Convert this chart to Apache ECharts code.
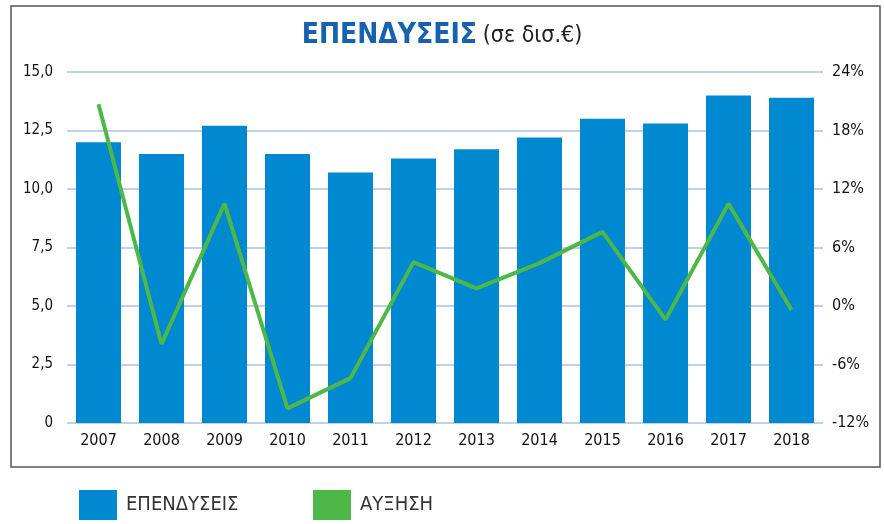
<!DOCTYPE html>
<html>
<head>
<meta charset="utf-8">
<script src="https://cdn.jsdelivr.net/npm/echarts@6/dist/echarts.min.js"></script>
<style>
  html, body { margin: 0; padding: 0; background: #fff; }
  #main { width: 884px; height: 524px; }
</style>
</head>
<body>
<div id="main"></div>
<script>
// δεδομένα
const years = ['2007', '2008', '2009', '2010', '2011', '2012', '2013', '2014', '2015', '2016', '2017', '2018']
const investments = [12.0, 11.5, 12.7, 11.5, 10.7, 11.3, 11.7, 12.2, 13.0, 12.8, 14.0, 13.9]
const growth = [20.7, -3.9, 10.5, -10.5, -7.4, 4.5, 1.8, 4.4, 7.6, -1.4, 10.5, -0.4]

const font = '"Liberation Sans Narrow", "DejaVu Sans Condensed", sans-serif'
const blue = '#0088d1'
const green = '#4db848'
const gridColor = '#a9c1e6'

const myChart = echarts.init(document.getElementById('main'))

const legendText = { fontSize: 20, color: '#333', padding: [0, 0, 0, 4], fontFamily: font }

const option = {
  animation: false,
  textStyle: { fontFamily: font },
  title: {
    text: '{a|ΕΠΕΝΔΥΣΕΙΣ} {b|(σε δισ.€)}',
    left: 'center',
    top: 17,
    textStyle: {
      rich: {
        a: { fontSize: 28, fontWeight: 'bold', color: '#1762ae', fontFamily: font },
        b: { fontSize: 23, fontWeight: 'normal', color: '#222', fontFamily: font }
      }
    }
  },
  legend: [
    {
      data: ['ΕΠΕΝΔΥΣΕΙΣ'],
      left: 79,
      top: 490,
      padding: 0,
      itemWidth: 38,
      itemHeight: 30,
      icon: 'rect',
      textStyle: legendText
    },
    {
      data: ['ΑΥΞΗΣΗ'],
      left: 313,
      top: 490,
      padding: 0,
      itemWidth: 38,
      itemHeight: 30,
      icon: 'rect',
      itemStyle: { color: green },
      textStyle: legendText
    }
  ],
  grid: {
    left: 67,
    right: 61,
    top: 72,
    bottom: 101
  },
  xAxis: {
    type: 'category',
    data: years,
    axisLine: { show: false },
    axisTick: { show: false },
    axisLabel: { fontSize: 16, color: '#111', margin: 10 }
  },
  yAxis: [
    {
      type: 'value',
      min: 0,
      max: 15,
      interval: 2.5,
      axisLine: { show: false },
      axisTick: { show: false },
      splitLine: { lineStyle: { color: gridColor, width: 1.5 } },
      axisLabel: {
        fontSize: 15,
        color: '#111',
        margin: 14,
        formatter: (v) => (v === 0 ? '0' : v.toFixed(1).replace('.', ','))
      }
    },
    {
      type: 'value',
      min: -12,
      max: 24,
      interval: 6,
      axisLine: { show: false },
      axisTick: { show: false },
      splitLine: { show: false },
      axisLabel: { fontSize: 16, color: '#111', margin: 9, formatter: '{value}%' }
    }
  ],
  series: [
    {
      name: 'ΕΠΕΝΔΥΣΕΙΣ',
      type: 'bar',
      data: investments,
      barWidth: 45,
      itemStyle: { color: blue }
    },
    {
      name: 'ΑΥΞΗΣΗ',
      type: 'line',
      yAxisIndex: 1,
      data: growth,
      symbol: 'none',
      lineStyle: { color: green, width: 4 },
      itemStyle: { color: green }
    }
  ],
  graphic: [
    {
      type: 'rect',
      shape: { x: 11, y: 6, width: 869, height: 461 },
      style: { fill: 'none', stroke: '#555', lineWidth: 1.5 },
      silent: true
    }
  ]
}
myChart.setOption(option)
</script>
</body>
</html>
